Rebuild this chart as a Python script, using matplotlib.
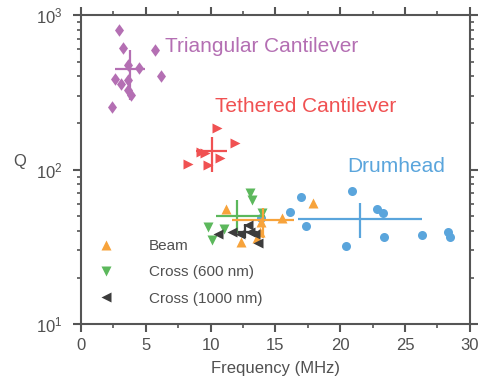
import matplotlib
matplotlib.use("Agg")
import matplotlib.pyplot as plt
from matplotlib.ticker import MultipleLocator, LogLocator, NullFormatter
from matplotlib.path import Path

plt.rcParams['font.family'] = ['Liberation Sans', 'DejaVu Sans']

# ---- data ----
tri_f = [2.95, 3.22, 5.73, 3.65, 4.45, 6.17, 2.62, 3.08, 3.65, 3.65, 3.88, 2.37]
tri_q = [800, 609, 593, 474, 456, 403, 384, 357, 380, 327, 304, 254]
tri_mean = (3.8, 447)
tri_xerr = (1.18, 1.13)
tri_yerr = (165, 146)

teth_f = [10.46, 11.87, 9.23, 9.56, 10.72, 8.27, 9.81]
teth_q = [185, 149, 130, 128, 118, 109, 107]
teth_mean = (10.08, 132)
teth_xerr = (1.21, 1.20)
teth_yerr = (35, 31)

drum_f = [16.94, 16.11, 17.35, 20.92, 22.85, 23.26, 20.41, 23.38, 26.27, 28.32, 28.45, 13.86]
drum_q = [66.7, 53.3, 43.3, 72.6, 55.2, 52.5, 32.0, 36.6, 37.8, 39.4, 36.6, 48.3]
drum_mean = (21.51, 47.9)
drum_xerr = (4.76, 4.76)
drum_yerr = (11.7, 12.5)

beam_f = [11.18, 15.54, 17.86, 12.31, 13.88, 13.80, 13.57]
beam_q = [55.2, 48.9, 60.4, 33.8, 45.7, 39.4, 36.0]
beam_mean = (14.06, 47.1)
beam_xerr = (2.44, 2.39)
beam_yerr = (11.2, 9.0)

c600_f = [13.03, 13.16, 9.81, 11.01, 10.08, 13.96]
c600_q = [70.2, 63.5, 42.5, 41.5, 35.2, 52.0]
c600_mean = (12.0, 50.2)
c600_xerr = (1.61, 2.19)
c600_yerr = (11.6, 13.3)

c1000_f = [10.59, 11.62, 12.90, 13.03, 13.42, 13.67, 12.26]
c1000_q = [38.1, 39.6, 43.7, 39.6, 38.1, 33.3, 38.1]
c1000_mean = (12.64, 39.6)
c1000_xerr = (0.56, 0.91)
c1000_yerr = (3.7, 4.6)

purple = '#b46fb3'
red = '#f05152'
blue = '#5aa5dc'
orange = '#f7a33b'
green = '#5cb85c'
dark = '#3c3c3c'
axcol = '#555555'
txtcol = '#505050'

diamond = Path([(0, 1), (0.72, 0), (0, -1), (-0.72, 0), (0, 1)],
               [Path.MOVETO, Path.LINETO, Path.LINETO, Path.LINETO, Path.CLOSEPOLY])

fig = plt.figure(figsize=(4.78, 3.85), dpi=100)
ax = fig.add_axes([0.1695, 0.1584, 0.8135, 0.8026])

def crosshair(mean, xerr, yerr, col):
    ax.errorbar([mean[0]], [mean[1]], xerr=[[xerr[0]], [xerr[1]]],
                yerr=[[yerr[0]], [yerr[1]]], fmt='none', ecolor=col,
                elinewidth=1.6, capsize=0, zorder=3)

ax.plot(drum_f, drum_q, 'o', color=blue, ms=6.5, mec='none', zorder=2)
crosshair(drum_mean, drum_xerr, drum_yerr, blue)
ax.plot(tri_f, tri_q, marker=diamond, ls='none', color=purple, ms=9, mec='none', zorder=2)
crosshair(tri_mean, tri_xerr, tri_yerr, purple)
ax.plot(teth_f, teth_q, '>', color=red, ms=7.5, mec='none', zorder=2)
crosshair(teth_mean, teth_xerr, teth_yerr, red)
ax.plot(c600_f, c600_q, 'v', color=green, ms=7.5, mec='none', zorder=2)
crosshair(c600_mean, c600_xerr, c600_yerr, green)
ax.plot(beam_f, beam_q, '^', color=orange, ms=7.5, mec='none', zorder=4)
crosshair(beam_mean, beam_xerr, beam_yerr, orange)
ax.plot(c1000_f, c1000_q, '<', color=dark, ms=7.5, mec='none', zorder=5)
crosshair(c1000_mean, c1000_xerr, c1000_yerr, dark)

ax.text(6.48, 630, 'Triangular Cantilever', color=purple, fontsize=15, va='center', ha='left')
ax.text(10.33, 254, 'Tethered Cantilever', color=red, fontsize=15, va='center', ha='left')
ax.text(20.55, 104, 'Drumhead', color=blue, fontsize=15, va='center', ha='left')

h1, = ax.plot([], [], '^', color=orange, ms=7.5, mec='none')
h2, = ax.plot([], [], 'v', color=green, ms=7.5, mec='none')
h3, = ax.plot([], [], '<', color=dark, ms=7.5, mec='none')
leg = ax.legend([h1, h2, h3], ['Beam', 'Cross (600 nm)', 'Cross (1000 nm)'],
                loc='lower left', bbox_to_anchor=(0.01, 0.015), frameon=False,
                fontsize=11, handlelength=1.0, handletextpad=2.3, labelspacing=0.8)
for t in leg.get_texts():
    t.set_color(txtcol)

ax.set_yscale('log')
ax.set_xlim(0, 30)
ax.set_ylim(10, 1000)
ax.xaxis.set_major_locator(MultipleLocator(5))
ax.xaxis.set_minor_locator(MultipleLocator(2.5))
ax.yaxis.set_major_locator(LogLocator(base=10))
ax.yaxis.set_minor_locator(LogLocator(base=10, subs=range(2, 10)))
ax.yaxis.set_minor_formatter(NullFormatter())

ax.set_xlabel('Frequency (MHz)', fontsize=12, color=txtcol, labelpad=6)
ax.set_ylabel('Q', fontsize=12, color=txtcol, rotation=0, va='center', ha='center')
ax.yaxis.set_label_coords(-0.157, 0.527)

for s in ax.spines.values():
    s.set_color(axcol)
    s.set_linewidth(1.5)
ax.tick_params(which='both', top=True, right=True, colors=axcol, labelcolor=txtcol, labelsize=12)
ax.tick_params(which='major', direction='out', length=6, width=1.5)
ax.tick_params(which='minor', direction='out', length=3, width=1.2)
ax.tick_params(axis='y', which='major', pad=7.5)
ax.tick_params(axis='x', which='major', pad=4)

fig.savefig('out.png', dpi=100)
